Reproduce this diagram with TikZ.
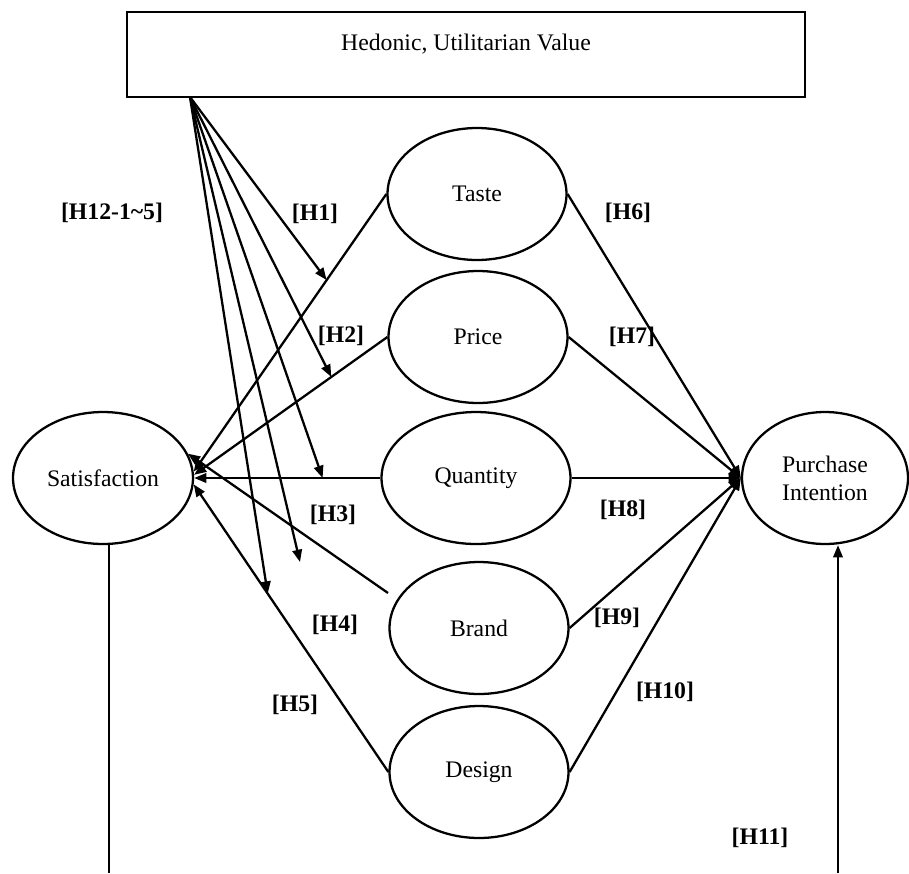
\documentclass[tikz,border=0pt]{standalone}
\usepackage{fontspec}
\setmainfont{Liberation Serif}
\usetikzlibrary{calc, positioning}
\usetikzlibrary{arrows.meta}
\usetikzlibrary{shapes.geometric}

\begin{document}
\begin{tikzpicture}[x=0.02cm, y=-0.02cm,
  every node/.style={font=\fontsize{13.5}{16}\selectfont},
  construct/.style={draw, ellipse, line width=1.3pt, inner sep=0pt, minimum width=3.58cm, minimum height=2.64cm},
  link/.style={line width=1.3pt, -{Triangle[length=7pt,width=5.4pt]}},
  hyp/.style={font=\fontsize{13.5}{16}\selectfont\bfseries}]
\useasboundingbox (0,0) rectangle (909,873);

% value box
\node[draw, line width=1.3pt, minimum width=13.56cm, minimum height=1.7cm, inner sep=0pt] (value) at (466,54.5) {};
\node (valuetext) at (466,44) {Hedonic, Utilitarian Value};

% constructs
\node[construct, minimum width=3.6cm] (sat) at (103,478) {Satisfaction};
\node[construct, minimum width=3.32cm, align=center] (pi) at (825,478) {Purchase\\Intention};
\node[construct] (taste) at (477,194) {Taste};
\node[construct] (price) at (478,337) {Price};
\node[construct, minimum width=3.78cm] (quantity) at (476,478) {Quantity};
\node[construct] (brand) at (479,628) {Brand};
\node[construct] (design) at (479,772) {Design};

\coordinate (src) at (190,97);
\coordinate (brandfoot) at (388,593);
\coordinate (satbot) at (109,873);
\coordinate (pibot) at (838,873);

% to satisfaction
\draw[link] (taste.west) -- (sat.4);
\draw[link] (price.west) -- (sat.2);
\draw[link] (quantity.west) -- (sat.east);
\draw[link] (brandfoot) -- (sat.16);
\draw[link] (design.west) -- (sat.-4);

% to purchase intention
\foreach \c in {taste, price, quantity, brand, design}
  \draw[link] (\c.east) -- (pi.west);

% moderation
\coordinate (m1) at ($(taste.west)!0.31!(sat.4)$);
\coordinate (m2) at ($(price.west)!0.29!(sat.2)$);
\coordinate (m3) at ($(quantity.west)!0.31!(sat.east)$);
\coordinate (m4) at (300,562);
\coordinate (m5) at ($(design.west)!0.62!(sat.-4)$);
\foreach \m in {m1, m2, m3, m4, m5}
  \draw[link] (src) -- (\m);

% satisfaction -> purchase intention
\draw[line width=0.6pt] (sat.south -| satbot) -- (satbot);
\draw[link] (pibot) -- (pibot |- pi.south);

% hypotheses
\node[hyp] (h12) at (112,213) {[H12-1\textasciitilde5]};
\node[hyp] (h1) at (315,214) {[H1]};
\node[hyp] (h2) at (341,336) {[H2]};
\node[hyp] (h3) at (333,515) {[H3]};
\node[hyp] (h4) at (335,625) {[H4]};
\node[hyp] (h5) at (295,705) {[H5]};
\node[hyp] (h6) at (628,213) {[H6]};
\node[hyp] (h7) at (632,337) {[H7]};
\node[hyp] (h8) at (623,510) {[H8]};
\node[hyp] (h9) at (617,618) {[H9]};
\node[hyp] (h10) at (665,692) {[H10]};
\node[hyp] (h11) at (760,838) {[H11]};
\end{tikzpicture}
\end{document}
